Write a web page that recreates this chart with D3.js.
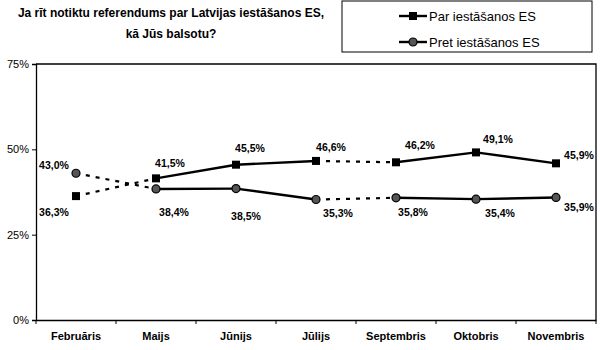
<!DOCTYPE html>
<html><head><meta charset="utf-8">
<script src="https://cdn.jsdelivr.net/npm/d3@7"></script>
<style>
body{margin:0;background:#fff;}
svg{display:block;font-family:"Liberation Sans",Arial,sans-serif;}
</style></head>
<body><svg id="c" width="600" height="350"></svg>
<script>
const categories = ["Februāris","Maijs","Jūnijs","Jūlijs","Septembris","Oktobris","Novembris"];
const parValues  = [36.3, 41.5, 45.5, 46.6, 46.2, 49.1, 45.9];
const pretValues = [43.0, 38.4, 38.5, 35.3, 35.8, 35.4, 35.9];
const seriesNames = ["Par iestāšanos ES","Pret iestāšanos ES"];
const yTicks = [0, 25, 50, 75];
// segments drawn dashed (gap in surveys): index of segment start
const dashedSegments = [0, 3];

// label offsets relative to markers (layout only)
const parLabelOff  = [[-22,20],[14,-11],[14,-13],[15,-10],[24,-13],[22,-9],[23,-4]];
const pretLabelOff = [[-22,-4],[18,27],[10,31],[22,17],[17,18],[24,18],[23,14]];

const svg = d3.select("#c");
const m = {l:36, r:596, t:64, b:320};
const x = d3.scaleBand().domain(categories).range([m.l, m.r]);
const y = d3.scaleLinear().domain([0,75]).range([m.b, m.t]);
const cx = c => x(c) + x.bandwidth()/2;

// title
const title = svg.append("text").attr("font-weight","bold").attr("font-size",12).attr("text-anchor","middle");
title.append("tspan").attr("x",171).attr("y",17).text("Ja rīt notiktu referendums par Latvijas iestāšanos ES,");
title.append("tspan").attr("x",171).attr("y",38).text("kā Jūs balsotu?");

// plot frame (top and right)
svg.append("path").attr("d",`M${m.l},${m.t}H${m.r}V${m.b}`).attr("fill","none").attr("stroke","#000").attr("stroke-width",1.3);

// y axis
const ya = svg.append("g").attr("transform",`translate(${m.l},0)`)
  .call(d3.axisLeft(y).tickValues(yTicks).tickFormat(d=>d+"%").tickSize(4).tickPadding(3));
ya.select(".domain").attr("stroke-width",1.3);
ya.selectAll("text").attr("font-size",11).attr("font-family","Liberation Sans, Arial, sans-serif");

// x axis
const xa = svg.append("g").attr("transform",`translate(0,${m.b})`)
  .call(d3.axisBottom(x).tickSize(0).tickPadding(12));
xa.select(".domain").attr("stroke-width",1.3);
xa.selectAll("text").attr("font-size",11).attr("font-weight","bold").attr("font-family","Liberation Sans, Arial, sans-serif");
// tick marks at band boundaries
const bounds = categories.map(c=>x(c)).concat([m.r]);
xa.selectAll(".bt").data(bounds).enter().append("line")
  .attr("x1",d=>d).attr("x2",d=>d).attr("y1",0).attr("y2",4).attr("stroke","#000");

function drawSeries(vals, shape, off){
  for(let i=0;i<vals.length-1;i++){
    const dashed = dashedSegments.includes(i);
    svg.append("line")
      .attr("x1",cx(categories[i])).attr("y1",y(vals[i]))
      .attr("x2",cx(categories[i+1])).attr("y2",y(vals[i+1]))
      .attr("stroke","#000").attr("stroke-width",dashed?2.2:2.4)
      .attr("stroke-dasharray",dashed?"4,6":null);
  }
  vals.forEach((v,i)=>{
    const px=cx(categories[i]), py=y(v);
    if(shape==="square"){
      svg.append("rect").attr("x",px-4).attr("y",py-4).attr("width",8).attr("height",8).attr("fill","#000");
    } else {
      svg.append("circle").attr("cx",px).attr("cy",py).attr("r",4).attr("fill","#555").attr("stroke","#000").attr("stroke-width",1.2);
    }
    svg.append("text").attr("x",px+off[i][0]).attr("y",py+off[i][1])
      .attr("text-anchor","middle").attr("font-size",10.5).attr("font-weight","bold")
      .text(v.toFixed(1).replace(".",",")+"%");
  });
}
drawSeries(parValues,"square",parLabelOff);
drawSeries(pretValues,"circle",pretLabelOff);

// legend
const lg = svg.append("g");
lg.append("rect").attr("x",342).attr("y",1).attr("width",250).attr("height",51).attr("fill","#fff").attr("stroke","#000").attr("stroke-width",1);
seriesNames.forEach((n,i)=>{
  const ly = 16 + i*26;
  lg.append("line").attr("x1",399).attr("x2",427).attr("y1",ly).attr("y2",ly).attr("stroke","#000").attr("stroke-width",2.4);
  if(i===0) lg.append("rect").attr("x",409).attr("y",ly-4).attr("width",8).attr("height",8).attr("fill","#000");
  else lg.append("circle").attr("cx",413).attr("cy",ly).attr("r",4).attr("fill","#555").attr("stroke","#000").attr("stroke-width",1.2);
  lg.append("text").attr("x",429).attr("y",ly+5).attr("font-size",13).text(n);
});
</script></body></html>
